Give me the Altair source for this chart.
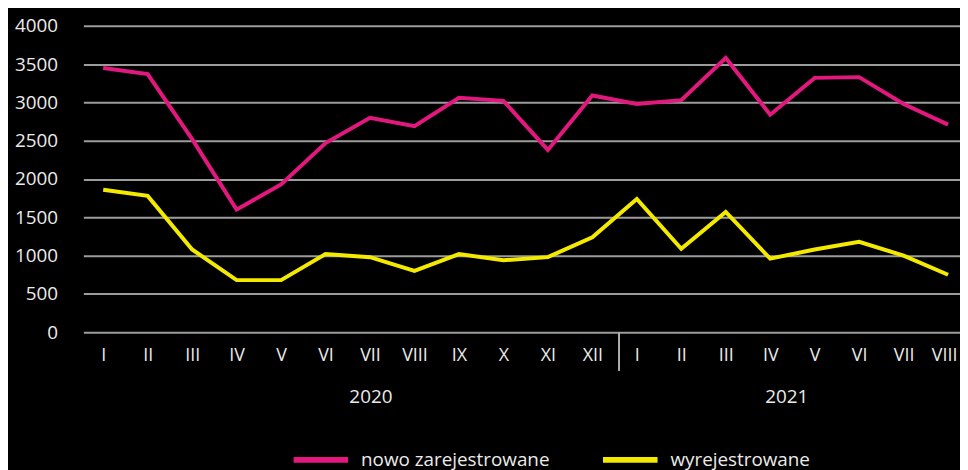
import json
import altair as alt
import pandas as pd

months = ["I", "II", "III", "IV", "V", "VI", "VII", "VIII", "IX", "X", "XI", "XII",
          "I", "II", "III", "IV", "V", "VI", "VII", "VIII"]
years = ["2020", "2021"]
series_names = ["nowo zarejestrowane", "wyrejestrowane"]
nowo_zarejestrowane = [3450, 3370, 2520, 1600, 1930, 2470, 2800, 2690, 3060, 3020, 2380, 3090,
                       2980, 3030, 3580, 2840, 3320, 3330, 2980, 2710]
wyrejestrowane = [1860, 1780, 1080, 680, 680, 1020, 980, 800, 1020, 940, 980, 1240,
                  1740, 1090, 1570, 960, 1080, 1180, 1000, 750]
y_ticks = [0, 500, 1000, 1500, 2000, 2500, 3000, 3500, 4000]

rows = []
for i in range(len(months)):
    rows.append({"idx": i, "series": series_names[0], "value": nowo_zarejestrowane[i]})
    rows.append({"idx": i, "series": series_names[1], "value": wyrejestrowane[i]})
df = pd.DataFrame(rows)

FONT = "Open Sans"
TXT = "#ebebeb"
x_scale = alt.Scale(domain=[-0.446, 19.268], nice=False, zero=False)
last_idx = len(months) - 1

lines = alt.Chart(df).mark_line(strokeWidth=4).encode(
    x=alt.X("idx:Q", scale=x_scale,
            axis=alt.Axis(values=list(range(len(months))),
                          labelExpr=json.dumps(months) + "[datum.value]",
                          grid=False, domain=False, ticks=False, title=None,
                          labelFontSize=18,
                          labelOffset={"condition": {"test": f"datum.value == {last_idx}", "value": -4},
                                       "value": 0},
                          labelPadding=15, labelFlush=False, labelOverlap=False)),
    y=alt.Y("value:Q", scale=alt.Scale(domain=[0, 4000], nice=False),
            axis=alt.Axis(values=y_ticks, format="d", grid=True, gridColor="#9c9c9c", gridWidth=2,
                          domain=False, ticks=False, title=None, labelPadding=26)),
    color=alt.Color("series:N",
                    scale=alt.Scale(domain=series_names, range=["#E2187E", "#F3EA00"]),
                    legend=alt.Legend(title=None, orient="none", direction="horizontal",
                                      legendX=209, legendY=407,
                                      symbolType="stroke", symbolSize=3025,
                                      symbolStrokeWidth=6, labelOffset=10,
                                      columnPadding=41, labelFontSize=19, labelLimit=0,
                                      labelColor=TXT, labelFont=FONT)),
)

sep = alt.Chart(pd.DataFrame({"x": [11.6]})).mark_rule(color="#b0b0b0", strokeWidth=2).encode(
    x=alt.X("x:Q", scale=x_scale), y=alt.value(309), y2=alt.value(348)
)

year_df = pd.DataFrame({"year": years, "pos": [6.02, 15.37]})
year_text = alt.Chart(year_df).mark_text(font=FONT, fontSize=19, color=TXT, baseline="middle").encode(
    x=alt.X("pos:Q", scale=x_scale), y=alt.value(374), text="year:N"
)

chart = alt.layer(lines, sep, year_text).properties(
    width=884, height=309,
    autosize=alt.AutoSizeParams(type="none"),
    padding={"left": 76, "top": 16, "right": 0, "bottom": 138},
    background="#000000",
).configure_view(stroke=None).configure_axis(
    labelFont=FONT, labelFontSize=19, labelColor=TXT
)

chart.save("out.html", embed_options={"renderer": "svg", "actions": False})
